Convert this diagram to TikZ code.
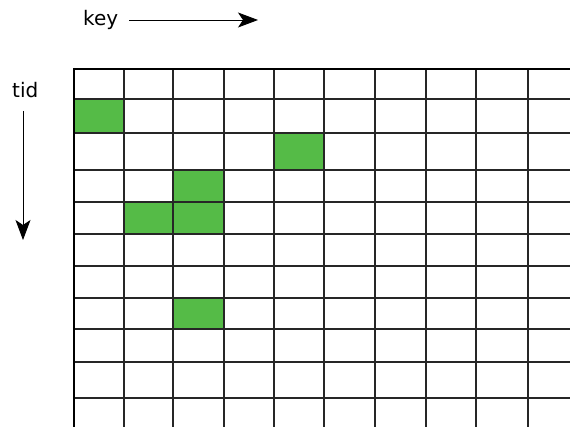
\documentclass[tikz,border=0pt]{standalone}
\usepackage{fontspec}
\setmainfont{DejaVu Sans}
\usetikzlibrary{arrows.meta}
\definecolor{cellgreen}{HTML}{55BB47}
\begin{document}
\begin{tikzpicture}[x=1pt,y=-1pt,
  lbl/.style={font=\fontsize{20}{24}\selectfont, inner sep=0pt, anchor=base west},
  dirarrow/.style={-{Stealth[length=20pt,width=15pt,inset=5pt]}, line width=0.9pt},
  gridline/.style={line width=1.4pt, black!85},
  cell/.style={fill=cellgreen, draw=black!80, line width=1.2pt}]
\useasboundingbox (0,0) rectangle (570,427);
\fill[white] (0,0) rectangle (570,427);
% green cells
\def\xs{{74,124,173,224,274,324,375,426,476,528,578}}
\def\ys{{69,99,133,170,202,234,266,298,329,362,398,440}}
\foreach \c/\r in {0/1,4/2,2/3,1/4,2/4,2/7}{
  \pgfmathsetmacro\xa{\xs[\c]}\pgfmathsetmacro\xb{\xs[\c+1]}
  \pgfmathsetmacro\ya{\ys[\r]}\pgfmathsetmacro\yb{\ys[\r+1]}
  \draw[cell] (\xa,\ya) rectangle (\xb,\yb);
}
% grid
\foreach \x in {74,124,173,224,274,324,375,426,476,528}
  \draw[gridline] (\x,69) -- (\x,427);
\foreach \y in {99,133,170,202,234,266,298,329,362,398}
  \draw[gridline] (74,\y) -- (570,\y);
\draw[line width=2pt] (73,69) -- (570,69);
\draw[line width=2pt] (74,68) -- (74,427);
% labels and arrows
\node[lbl] (key) at (83,26) {key};
\coordinate (keystart) at (129,20);
\coordinate (keyend) at (258,20);
\draw[dirarrow] (keystart) -- (keyend);
\node[lbl] (tid) at (12,98) {tid};
\coordinate (tidstart) at (23,111);
\coordinate (tidend) at (23,240);
\draw[dirarrow] (tidstart) -- (tidend);
\end{tikzpicture}
\end{document}
